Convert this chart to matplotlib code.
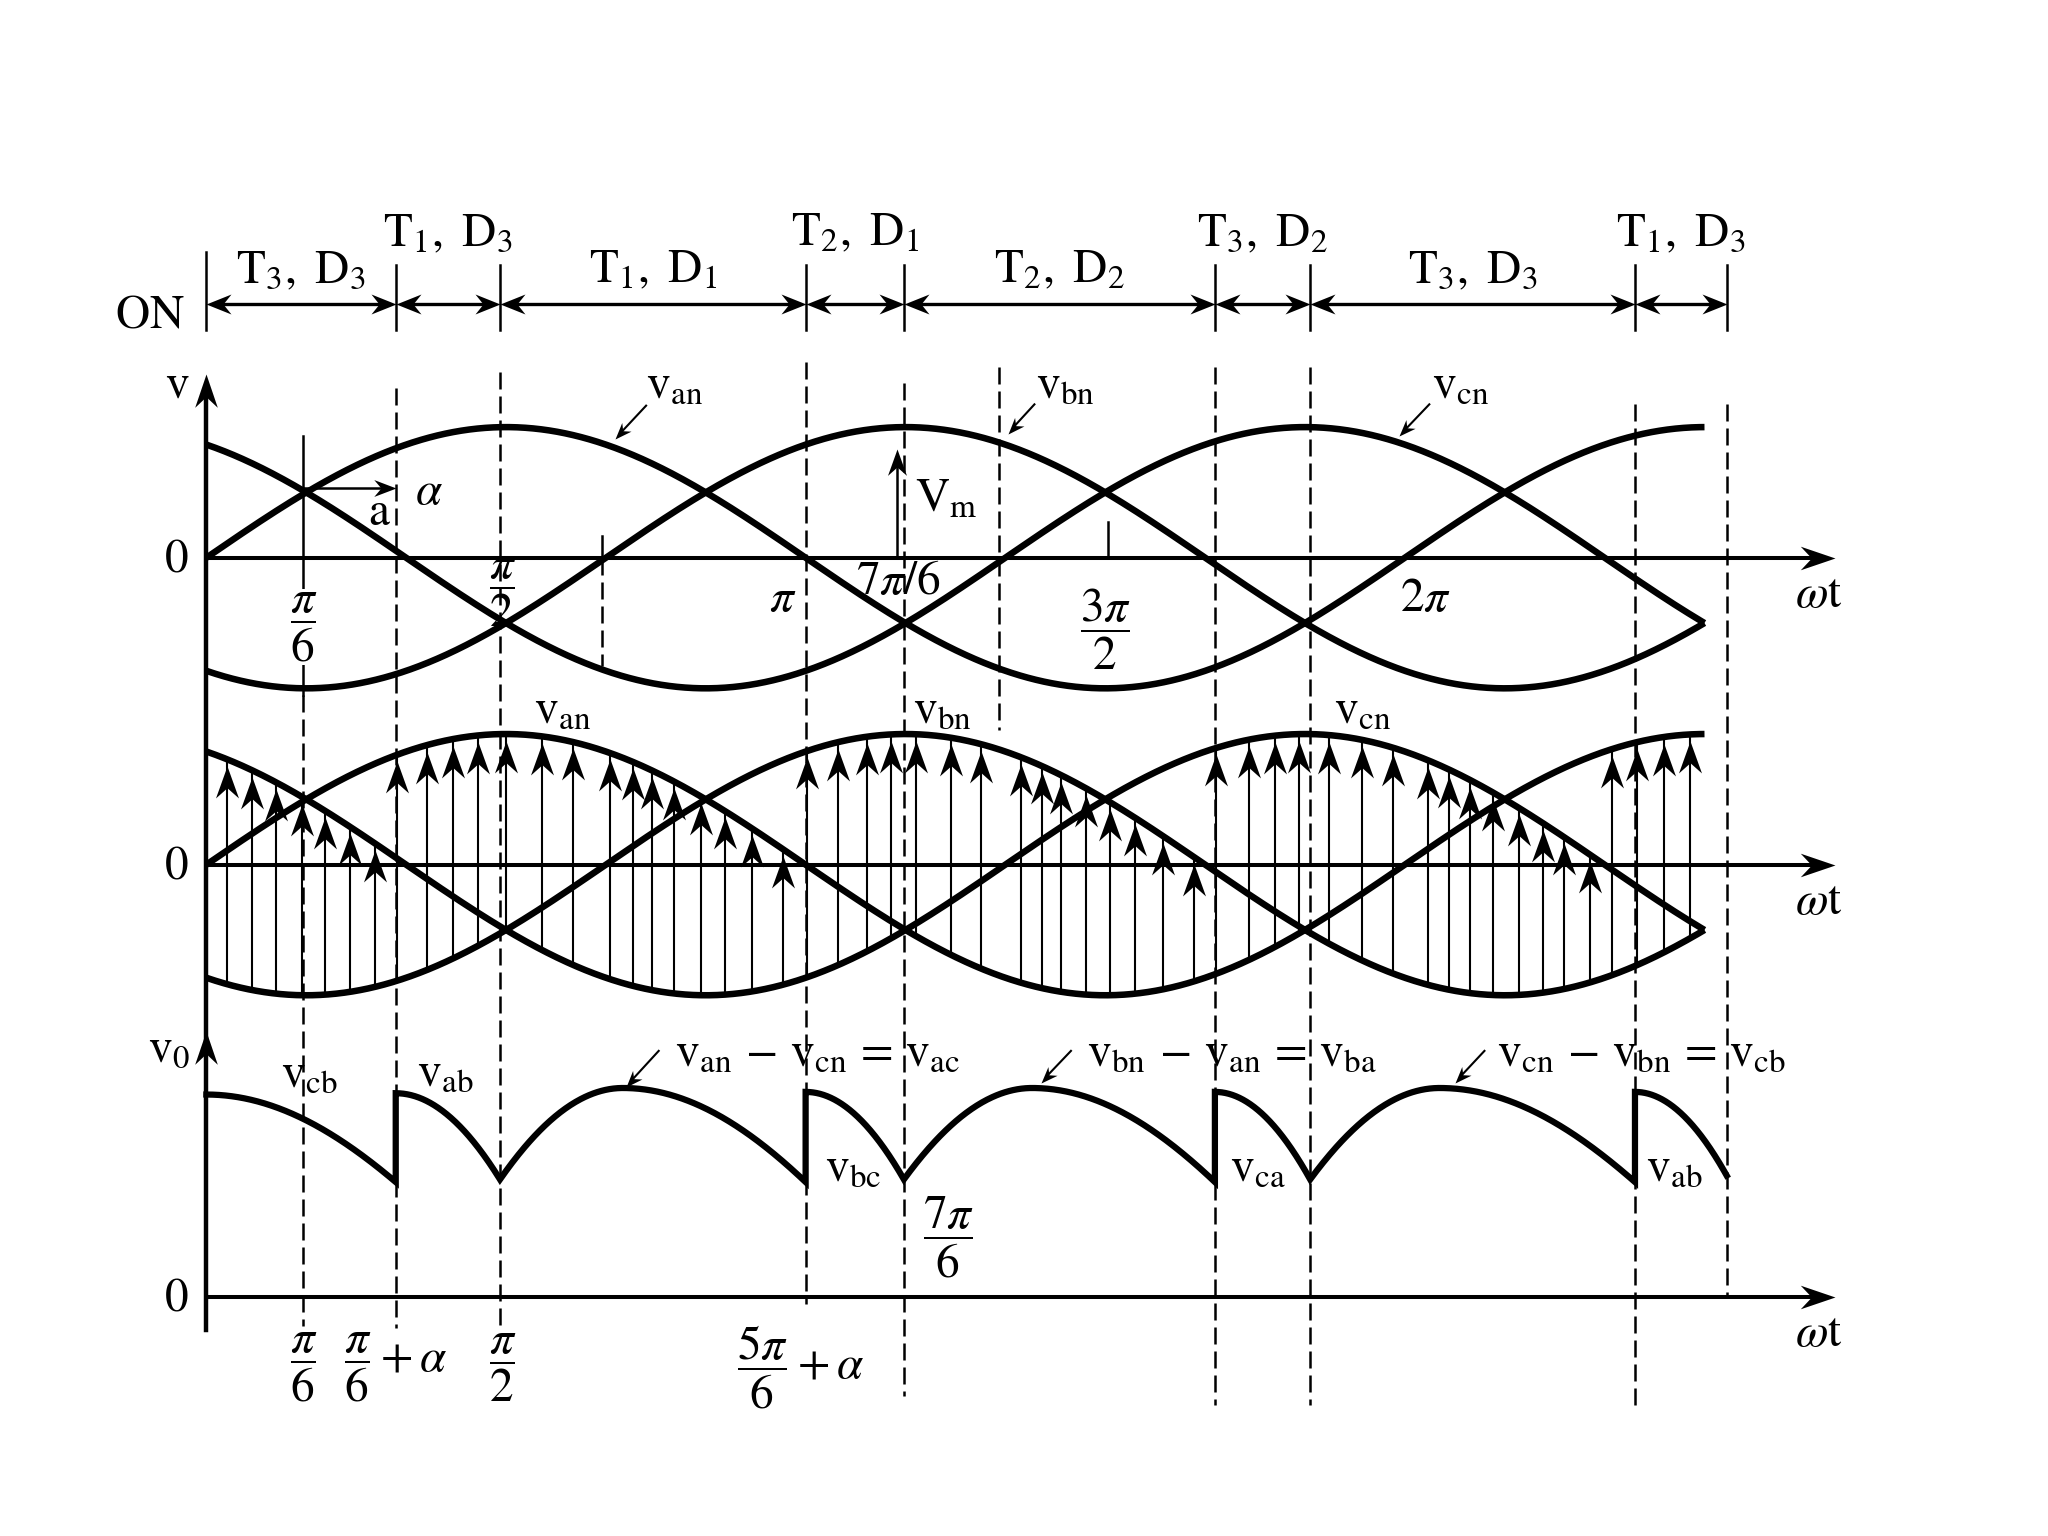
import numpy as np
import matplotlib.pyplot as plt
from matplotlib.path import Path
from matplotlib.markers import MarkerStyle
from matplotlib.transforms import Affine2D

plt.rcParams['mathtext.fontset'] = 'stix'
plt.rcParams['font.family'] = ['STIXGeneral', 'DejaVu Serif']

PI = np.pi

# supply voltages v_xn = Vm sin(wt - shift), shift in units of pi
phase_shift = {'an': 0.0, 'bn': 2 / 3, 'cn': 4 / 3}
t_end = 2.5

# panel baselines (units of Vm)
base_top, base_mid, base_out = 0.0, -2.35, -5.66

# conduction intervals (boundaries in units of pi)
on_edges = [0.0, 0.316, 0.490, 1.000, 1.164, 1.683, 1.842, 2.384, 2.537]
on_labels = ['T_3,\\ D_3', 'T_1,\\ D_3', 'T_1,\\ D_1', 'T_2,\\ D_1',
             'T_2,\\ D_2', 'T_3,\\ D_2', 'T_3,\\ D_3', 'T_1,\\ D_3']
on_raised = [0, 1, 0, 1, 0, 1, 0, 1]

# thyristor firing instants seen in the middle panel (units of pi)
fire_at = [0.31, 0.99, 1.67, 2.33]
fire_phase = ['cn', 'an', 'bn', 'cn', 'an']

# positions of the arrows in the middle panel (units of pi)
arrow_pos = [0.034, 0.076, 0.117, 0.160, 0.198, 0.239, 0.281, 0.318, 0.368,
             0.412, 0.453, 0.500, 0.560, 0.611, 0.673, 0.712, 0.744, 0.780,
             0.826, 0.865, 0.911, 0.962, 1.003, 1.054, 1.102, 1.142, 1.184,
             1.243, 1.293, 1.359, 1.394, 1.427, 1.468, 1.508, 1.549, 1.597,
             1.648, 1.685, 1.740, 1.784, 1.823, 1.873, 1.929, 1.980, 2.039,
             2.073, 2.109, 2.147, 2.190, 2.231, 2.265, 2.309, 2.345, 2.388,
             2.432, 2.475]

# output voltage arcs (sketch heights above the v0 axis, units of Vm)
out_peak = [0.0, 0.316, 0.695, 1.000, 1.378, 1.683, 2.058, 2.384]
out_top = [1.55, 1.56, 1.60, 1.57, 1.60, 1.57, 1.60, 1.57]
out_start = [1.55, 1.56, 0.90, 1.57, 0.90, 1.57, 0.90, 1.57]
out_stop = [0.88, 0.90, 0.88, 0.90, 0.88, 0.90, 0.88, 0.93]

# vertical guide lines: (wt/pi, top, bottom, style)
guides = [
    (0.161, 0.93, -1.05, 'solid'), (0.161, -1.05, -5.88, 'dashed'),
    (0.316, 1.30, -5.90, 'dashed'), (0.490, 1.42, -5.90, 'dashed'),
    (0.661, 0.17, 0.0, 'solid'), (0.661, 0.0, -0.83, 'dashed'),
    (1.000, 1.50, -5.71, 'dashed'), (1.164, 1.34, -6.42, 'dashed'),
    (1.323, 1.46, -1.32, 'dashed'), (1.504, 0.27, 0.0, 'solid'),
    (1.683, 1.46, -6.49, 'dashed'), (1.842, 1.46, -6.49, 'dashed'),
    (2.384, 1.18, -6.49, 'dashed'), (2.537, 1.18, -5.66, 'dashed'),
]

FS = 34
DASH = (0, (6.8, 2.8))

fig = plt.figure(figsize=(20.48, 15.36), dpi=100)
ax = fig.add_axes([0, 0, 1, 1])
ax.set_xlim(-158 / 458.8 * PI, 1410 / 458.8 * PI)
ax.set_ylim(-7.49, 4.27)
ax.axis('off')


def head(angle, w=0.34):
    # notched arrowhead, tip at the marker position
    path = Path([(0, 0), (-1, w), (-0.68, 0), (-1, -w), (0, 0)],
                [Path.MOVETO, Path.LINETO, Path.LINETO, Path.LINETO, Path.CLOSEPOLY])
    return MarkerStyle(path, transform=Affine2D().rotate_deg(angle))


def arrow(x0, y0, x1, y1, lw=2.0, ms=40, heads=(1,), w=0.34):
    p0 = ax.transData.transform((x0, y0))
    p1 = ax.transData.transform((x1, y1))
    d = p1 - p0
    L = np.hypot(*d)
    ang = np.degrees(np.arctan2(d[1], d[0]))
    hl = 0.5 * ms * fig.dpi / 72 * 0.6
    a = p0 + d / L * hl if 0 in heads else p0
    b = p1 - d / L * hl if 1 in heads else p1
    (xa, ya), (xb, yb) = ax.transData.inverted().transform([a, b])
    ax.plot([xa, xb], [ya, yb], color='k', lw=lw, solid_capstyle='butt')
    if 1 in heads:
        ax.plot([x1], [y1], marker=head(ang, w), ms=ms, mew=0, mfc='k', ls='none')
    if 0 in heads:
        ax.plot([x0], [y0], marker=head(ang + 180, w), ms=ms, mew=0, mfc='k', ls='none')


def v(name, t):
    return np.sin(t - phase_shift[name] * PI)


def txt(x, y, s, **kw):
    kw.setdefault('ha', 'center')
    kw.setdefault('va', 'center')
    ax.text(x * PI, y, s, fontsize=kw.pop('fs', FS), **kw)


t = np.linspace(0, t_end * PI, 1500)

# supply waveforms, top and middle panels
for base in (base_top, base_mid):
    for name in phase_shift:
        ax.plot(t, base + v(name, t), color='k', lw=4.7, zorder=5,
                solid_capstyle='butt')

# middle panel: arrows from diode phase (lowest) to conducting thyristor phase
for p in arrow_pos:
    tt = p * PI
    low = min(v(n, tt) for n in phase_shift)
    ph = fire_phase[np.searchsorted(fire_at, p, side='right')]
    tip = v(ph, tt)
    ax.plot([tt, tt], [base_mid + low, base_mid + tip], color='k', lw=1.5, zorder=3)
    ax.plot([tt], [base_mid + tip - 0.05], marker=head(90, 0.36), ms=46, mew=0,
            mfc='k', ls='none', zorder=4)

# output voltage v0
xs, ys = [], []
for i in range(len(out_peak)):
    a, b, pk = on_edges[i] * PI, on_edges[i + 1] * PI, out_peak[i] * PI
    tt = np.linspace(a, b, 300)
    d = tt - pk
    drop_l = (out_top[i] - out_start[i]) / max(1 - np.cos(a - pk), 1e-9)
    drop_r = (out_top[i] - out_stop[i]) / max(1 - np.cos(b - pk), 1e-9)
    drop = np.where(d < 0, drop_l, drop_r)
    xs.append(tt)
    ys.append(base_out + out_top[i] - drop * (1 - np.cos(d)))
ax.plot(np.concatenate(xs), np.concatenate(ys), color='k', lw=4.5, zorder=5,
        solid_joinstyle='miter')

# guide lines
for p, y0, y1, style in guides:
    ax.plot([p * PI, p * PI], [y0, y1], color='k', lw=1.8,
            ls='-' if style == 'solid' else DASH, zorder=2)

# axes
ax.plot([0, 0], [1.41 - 0.1, -5.91], color='k', lw=3.2, zorder=6)
ax.plot([0], [1.41], marker=head(90), ms=48, mew=0, mfc='k', zorder=6)
ax.plot([0], [-3.62], marker=head(90), ms=48, mew=0, mfc='k', zorder=6)
for base in (base_top, base_mid, base_out):
    arrow(0, base, 2.718 * PI, base, lw=2.9, ms=50)
    txt(2.691, base - 0.29, r'$\omega\mathrm{t}$')
    txt(-0.051, base - 0.02, r'$0$')

# ON row
txt(-0.094, 1.76, r'$\mathrm{ON}$', va='baseline')
for i, lab in enumerate(on_labels):
    a, b = on_edges[i], on_edges[i + 1]
    arrow(a * PI, 1.94, b * PI, 1.94, lw=2.4, ms=36, heads=(0, 1), w=0.4)
    txt((a + b) / 2, 2.39 if on_raised[i] else 2.11, r'$\mathrm{%s}$' % lab,
        va='baseline')
for i, e in enumerate(on_edges):
    ax.plot([e * PI, e * PI], [2.34 if i == 0 else 2.24, 1.74], color='k', lw=1.8)

# top panel labels
txt(-0.048, 1.31, r'$\mathrm{v}$')
txt(0.163, -0.53, r'$\dfrac{\pi}{6}$',
    bbox=dict(facecolor='white', edgecolor='none', pad=1), zorder=7)
txt(0.495, -0.27, r'$\dfrac{\pi}{2}$', zorder=7)
txt(0.961, -0.32, r'$\pi$', zorder=7)
txt(1.155, -0.19, r'$7\pi/6$', zorder=7)
txt(1.500, -0.55, r'$\dfrac{3\pi}{2}$', zorder=7)
txt(2.034, -0.32, r'$2\pi$', zorder=7)
arrow(0.161 * PI, 0.53, 0.316 * PI, 0.53, lw=1.8, ms=32, w=0.38)
txt(0.372, 0.50, r'$\alpha$')
txt(0.289, 0.34, r'$\mathrm{a}$')
arrow(1.153 * PI, 0.0, 1.153 * PI, 0.83, lw=1.8, ms=38, w=0.36)
txt(1.234, 0.44, r'$\mathrm{V_m}$')
for lab, (lx, ly), (x0, y0, x1, y1) in [
        ('v_{an}', (0.782, 1.31), (0.735, 1.17, 0.682, 0.91)),
        ('v_{bn}', (1.433, 1.31), (1.383, 1.18, 1.337, 0.95)),
        ('v_{cn}', (2.093, 1.31), (2.042, 1.18, 1.990, 0.93))]:
    txt(lx, ly, r'$\mathrm{%s}$' % lab)
    arrow(x0 * PI, y0, x1 * PI, y1, lw=1.5, ms=24, w=0.38)

# middle panel labels
for lab, lx in [('v_{an}', 0.595), ('v_{bn}', 1.229), ('v_{cn}', 1.929)]:
    txt(lx, base_mid + 1.17, r'$\mathrm{%s}$' % lab)

# bottom panel labels
txt(-0.062, -3.77, r'$\mathrm{v_0}$')
txt(0.171, -3.97, r'$\mathrm{v_{cb}}$')
txt(0.398, -3.96, r'$\mathrm{v_{ab}}$')
txt(1.079, -4.69, r'$\mathrm{v_{bc}}$')
txt(1.755, -4.69, r'$\mathrm{v_{ca}}$')
txt(2.450, -4.69, r'$\mathrm{v_{ab}}$')
for (p, q, r), lx, (x0, y0, x1, y1) in [
        (('an', 'cn', 'ac'), 0.782, (0.756, -3.77, 0.700, -4.05)),
        (('bn', 'an', 'ba'), 1.469, (1.444, -3.77, 1.392, -4.02)),
        (('cn', 'bn', 'cb'), 2.154, (2.134, -3.77, 2.083, -4.02))]:
    s = r'$\mathrm{v_{%s}}\,-\,\mathrm{v_{%s}}\,=\,\mathrm{v_{%s}}$' % (p, q, r)
    txt(lx, -3.81, s, ha='left')
    arrow(x0 * PI, y0, x1 * PI, y1, lw=1.5, ms=24, w=0.38)
txt(1.239, -5.20, r'$\dfrac{7\pi}{6}$')
txt(0.163, -6.20, r'$\dfrac{\pi}{6}$')
txt(0.316, -6.20, r'$\dfrac{\pi}{6}+\alpha$')
txt(0.495, -6.20, r'$\dfrac{\pi}{2}$')
txt(0.992, -6.20, r'$\dfrac{5\pi}{6}+\alpha$')

fig.savefig('out.png', dpi=100, facecolor='white')
